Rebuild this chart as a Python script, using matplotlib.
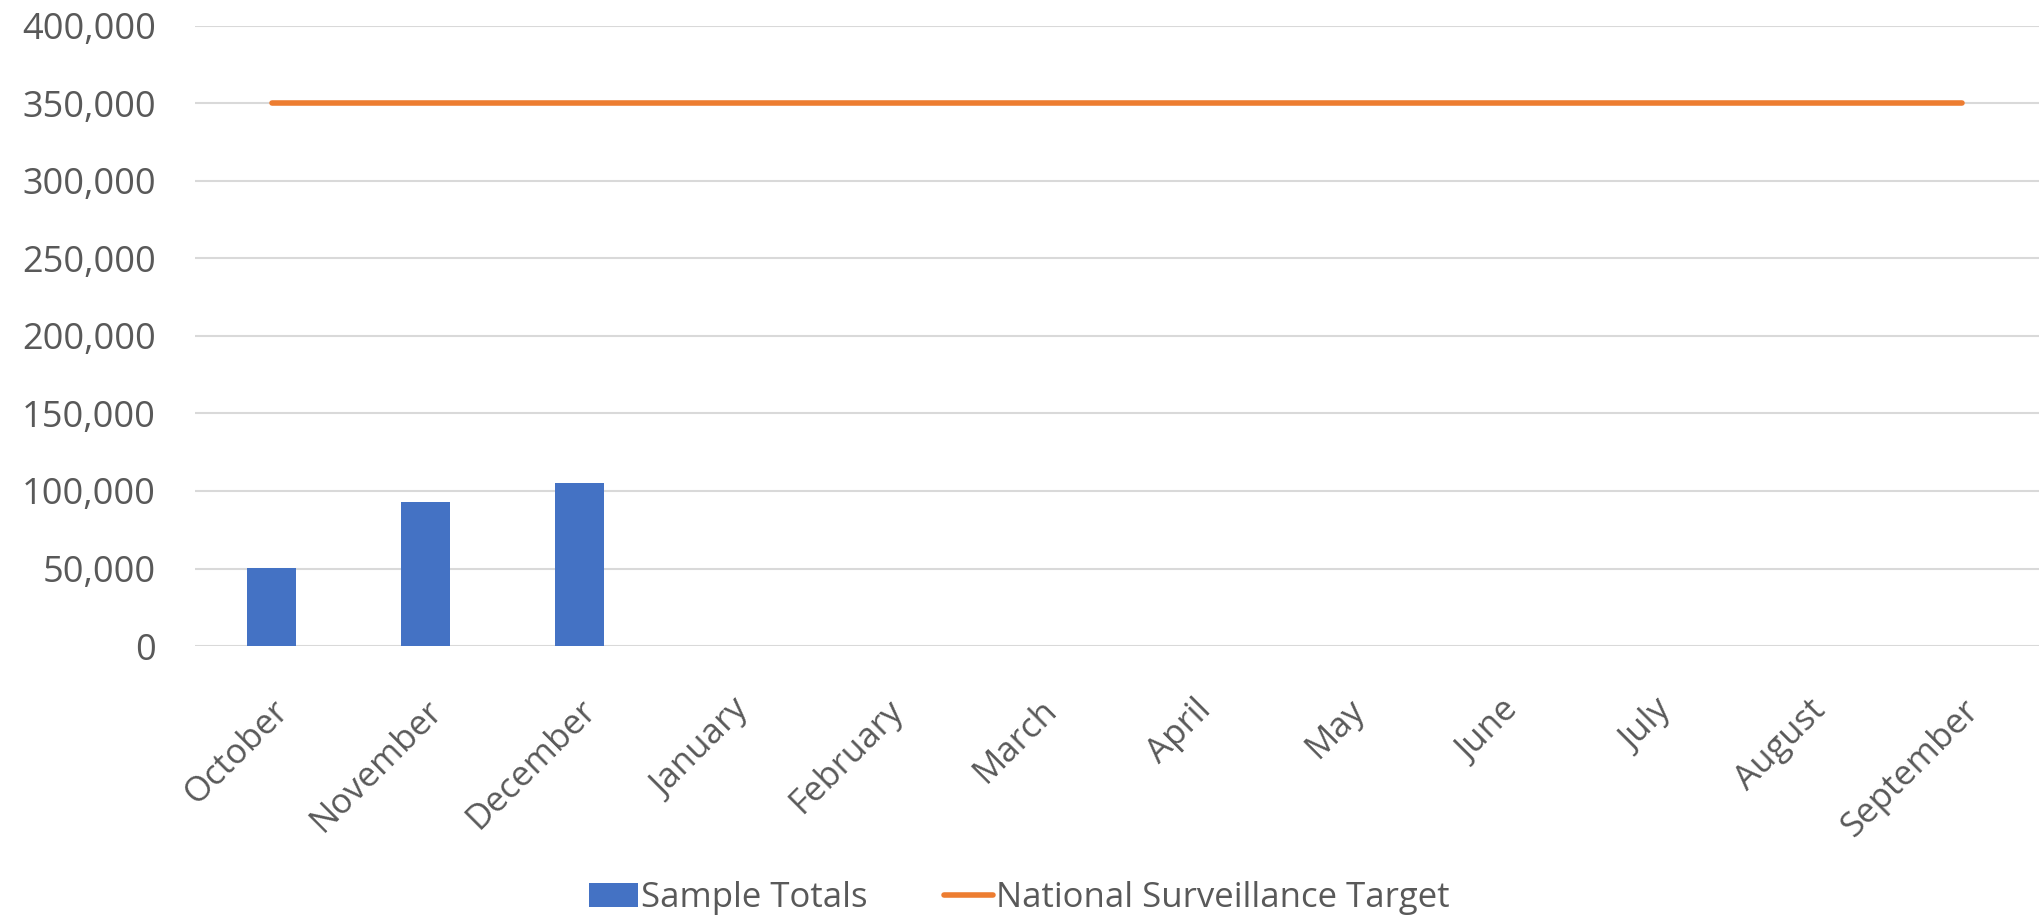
import matplotlib
matplotlib.use("Agg")
import matplotlib.pyplot as plt
from matplotlib.ticker import FuncFormatter

months = ["October", "November", "December", "January", "February", "March",
          "April", "May", "June", "July", "August", "September"]
sample_totals = [50500, 92800, 105000]
target = [350000] * 12
yticks = [0, 50000, 100000, 150000, 200000, 250000, 300000, 350000, 400000]

plt.rcParams['font.family'] = ['Open Sans', 'DejaVu Sans']
txt = '#595959'

fig = plt.figure(figsize=(20.39, 9.19), dpi=100)
ax = fig.add_axes([0.0956, 0.297, 0.9044, 0.675])

x = list(range(len(months)))
bars = ax.bar(x[:len(sample_totals)], sample_totals, width=0.32, color='#4472C4',
              label='Sample Totals', zorder=3)
line, = ax.plot(x, target, color='#ED7D31', lw=4, solid_capstyle='round',
                label='National Surveillance Target', zorder=4)

ax.set_xlim(-0.5, 11.5)
ax.set_ylim(0, 400000)
ax.set_yticks(yticks)
ax.yaxis.set_major_formatter(FuncFormatter(lambda v, p: f"{int(v):,}"))
ax.grid(axis='y', color='#d9d9d9', lw=1.5, zorder=0)
for s in ax.spines.values():
    s.set_visible(False)
ax.tick_params(axis='both', length=0, colors=txt)
ax.tick_params(axis='y', pad=28, labelsize=26)
ax.set_xticks(x)
ax.set_xticklabels(months, rotation=45, ha='right', rotation_mode='anchor')
ax.tick_params(axis='x', pad=34, labelsize=25)

leg = fig.legend([bars, line], ['Sample Totals', 'National Surveillance Target'],
                 loc='lower center', bbox_to_anchor=(0.5, -0.03), ncol=2,
                 frameon=False, fontsize=25, labelcolor=txt,
                 handlelength=1.4, handletextpad=0.1, columnspacing=2.2)

fig.savefig("out.png", dpi=100, facecolor='white')
